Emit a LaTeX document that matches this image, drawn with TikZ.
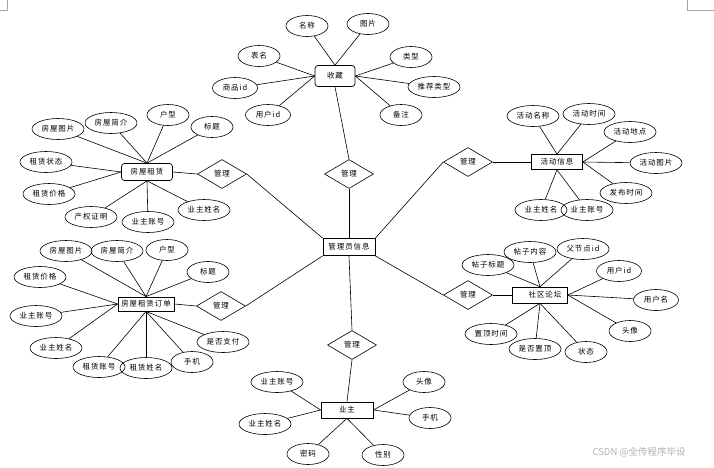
\documentclass[tikz,border=0pt]{standalone}
\usepackage{fontspec}
\setmainfont[LetterSpace=12]{Noto Sans CJK SC}
\newfontfamily\wmfont{Noto Sans CJK SC}
\usetikzlibrary{shapes.geometric}
\begin{document}
\begin{tikzpicture}[x=1pt,y=-1pt,
  every node/.style={font=\fontsize{7.5}{9}\selectfont, inner sep=0pt},
  attr/.style={ellipse, draw, line width=0.6pt, minimum width=42pt, minimum height=21pt},
  attrl/.style={attr, minimum width=52pt},
  ent/.style={rectangle, draw, line width=0.7pt, minimum height=16pt},
  rel/.style={diamond, draw, line width=0.6pt, minimum width=49pt, minimum height=29pt},
  conn/.style={line width=0.6pt},
  corner/.style={draw=gray!70, line width=0.5pt}]
\useasboundingbox (0,0) rectangle (714,467);
\fill[white] (0,0) rectangle (714,467);
% page corner marks
\draw[corner] (7,0) -- (7,10) -- (0,10);
\draw[corner] (687,0) -- (687,10) -- (714,10);

% central entity
\node[ent, minimum width=52pt, minimum height=17pt] (gly) at (349,247) {管理员信息};

% ---- 收藏 ----
\node[ent, rounded corners=3pt, minimum width=40pt, minimum height=21pt] (sc) at (335,76) {收藏};
\node[attr] (sc1) at (307,26) {名称};
\node[attr] (sc2) at (368,24) {图片};
\node[attr] (sc3) at (411,57) {类型};
\node[attrl] (sc4) at (434,87) {推荐类型};
\node[attr] (sc5) at (401,115) {备注};
\node[attr, minimum width=45pt] (sc6) at (268,115) {用户id};
\node[attr, minimum width=45pt] (sc7) at (235,88) {商品id};
\node[attr] (sc8) at (259,56) {表名};
\foreach \a in {sc1,sc2} \draw[conn] (\a) -- (sc.north);
\foreach \a in {sc3,sc4,sc5} \draw[conn] (\a) -- (sc.east);
\foreach \a in {sc6,sc7,sc8} \draw[conn] (\a) -- (sc.west);
\node[rel] (r1) at (349,174) {管理};
\draw[conn] (sc.south) -- (r1.north);
\draw[conn] (r1.south) -- (gly.north);

% ---- 房屋租赁 ----
\node[ent, rounded corners=3pt, minimum width=51pt, minimum height=17pt] (fz) at (147,172) {房屋租赁};
\node[attrl] (fz1) at (58,129) {房屋图片};
\node[attrl] (fz2) at (111,123) {房屋简介};
\node[attr] (fz3) at (168,115) {户型};
\node[attr] (fz4) at (212,127) {标题};
\node[attrl] (fz5) at (46,162) {租赁状态};
\node[attrl] (fz6) at (49,194) {租赁价格};
\node[attrl] (fz7) at (91,217) {产权证明};
\node[attrl] (fz8) at (148,222) {业主账号};
\node[attrl] (fz9) at (204,210) {业主姓名};
\foreach \a in {fz1,fz2,fz3,fz4} \draw[conn] (\a) -- (fz.north);
\foreach \a in {fz5,fz6} \draw[conn] (\a) -- (fz.west);
\foreach \a in {fz7,fz8,fz9} \draw[conn] (\a) -- (fz.south);
\node[rel] (r2) at (222,174) {管理};
\draw[conn] (fz.east) -- (r2.west);
\draw[conn] (r2.east) -- (gly.north west);

% ---- 房屋租赁订单 ----
\node[ent, line width=0.9pt, minimum width=56pt, minimum height=14pt] (dd) at (146,304) {房屋租赁订单};
\node[attrl] (dd1) at (66,251) {房屋图片};
\node[attrl] (dd2) at (117,251) {房屋简介};
\node[attr] (dd3) at (167,250) {户型};
\node[attr] (dd4) at (208,272) {标题};
\node[attrl] (dd5) at (40,277) {租赁价格};
\node[attrl] (dd6) at (36,316) {业主账号};
\node[attrl] (dd7) at (56,348) {业主姓名};
\node[attrl] (dd8) at (99,367) {租赁账号};
\node[attrl] (dd9) at (146,368) {租赁姓名};
\node[attr] (dd10) at (192,362) {手机};
\node[attrl] (dd11) at (223,342) {是否支付};
\foreach \a in {dd1,dd2,dd3,dd4} \draw[conn] (\a) -- (dd.north);
\foreach \a in {dd5,dd6,dd7} \draw[conn] (\a) -- (dd.west);
\foreach \a in {dd8,dd9,dd10,dd11} \draw[conn] (\a) -- (dd.south);
\node[rel] (r3) at (221,306) {管理};
\draw[conn] (dd.east) -- (r3.west);
\draw[conn] (r3.east) -- (gly.south west);

% ---- 活动信息 ----
\node[ent, minimum width=51pt, minimum height=15pt] (hd) at (557,162) {活动信息};
\node[attrl] (hd1) at (533,116) {活动名称};
\node[attrl] (hd2) at (589,114) {活动时间};
\node[attrl] (hd3) at (630,132) {活动地点};
\node[attrl] (hd4) at (656,163) {活动图片};
\node[attrl] (hd5) at (626,193) {发布时间};
\node[attrl] (hd6) at (541,210) {业主姓名};
\node[attrl] (hd7) at (587,210) {业主账号};
\foreach \a in {hd1,hd2} \draw[conn] (\a) -- (hd.north);
\foreach \a in {hd3,hd4,hd5} \draw[conn] (\a) -- (hd.east);
\foreach \a in {hd6,hd7} \draw[conn] (\a) -- (hd.south);
\node[rel] (r4) at (468,162) {管理};
\draw[conn] (hd.west) -- (r4.east);
\draw[conn] (r4.west) -- (gly.north east);

% ---- 社区论坛 ----
\node[ent, minimum width=55pt, minimum height=16pt] (lt) at (540,295) {\hspace*{10pt}社区论坛};
\node[attrl] (lt1) at (488,265) {帖子标题};
\node[attrl] (lt2) at (530,252) {帖子内容};
\node[attrl] (lt3) at (583,249) {父节点id};
\node[attr, minimum width=45pt] (lt4) at (619,271) {用户id};
\node[attr, minimum width=45pt] (lt5) at (656,300) {用户名};
\node[attr] (lt6) at (630,331) {头像};
\node[attr] (lt7) at (586,352) {状态};
\node[attrl] (lt8) at (535,349) {是否置顶};
\node[attrl] (lt9) at (491,334) {置顶时间};
\foreach \a in {lt1,lt2,lt3} \draw[conn] (\a) -- (lt.north);
\foreach \a in {lt4,lt5,lt6} \draw[conn] (\a) -- (lt.east);
\foreach \a in {lt7,lt8,lt9} \draw[conn] (\a) -- (lt.south);
\node[rel] (r5) at (468,295) {管理};
\draw[conn] (lt.west) -- (r5.east);
\draw[conn] (r5.west) -- (gly.south east);

% ---- 业主 ----
\node[ent, minimum width=52pt, minimum height=16pt] (yz) at (347,410) {业主};
\node[attrl] (yz1) at (277,382) {业主账号};
\node[attrl] (yz2) at (265,424) {业主姓名};
\node[attr] (yz3) at (308,454) {密码};
\node[attr] (yz4) at (383,455) {性别};
\node[attr] (yz5) at (424,382) {头像};
\node[attr] (yz6) at (430,418) {手机};
\foreach \a in {yz1,yz2} \draw[conn] (\a) -- (yz.west);
\foreach \a in {yz3,yz4} \draw[conn] (\a) -- (yz.south);
\foreach \a in {yz5,yz6} \draw[conn] (\a) -- (yz.east);
\node[rel] (r6) at (352,345) {管理};
\draw[conn] (yz.north) -- (r6.south);
\draw[conn] (r6.north) -- (gly.south);

% watermark
\node[text=gray!60, font=\wmfont\fontsize{9.5}{11}\selectfont] (wm) at (639,452) {CSDN @全传程序毕设};
\end{tikzpicture}
\end{document}
